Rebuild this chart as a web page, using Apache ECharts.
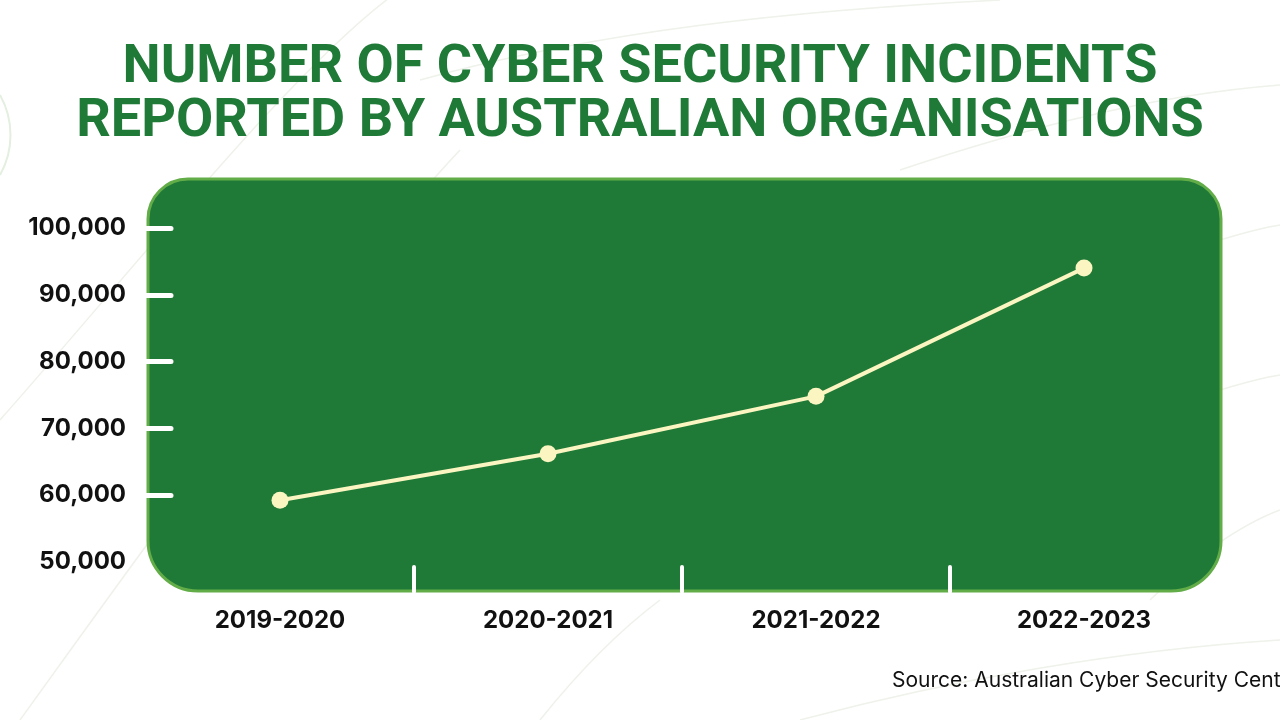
<!DOCTYPE html>
<html>
<head>
<meta charset="utf-8">
<script src="https://cdn.jsdelivr.net/npm/echarts@6/dist/echarts.min.js"></script>
<style>
html,body{margin:0;padding:0;background:#ffffff;}
#chart{width:1280px;height:720px;}
</style>
</head>
<body>
<div id="chart"></div>
<script>
const titleText = 'NUMBER OF CYBER SECURITY INCIDENTS\nREPORTED BY AUSTRALIAN ORGANISATIONS';
const sourceText = 'Source: Australian Cyber Security Centre';
const categories = ['2019-2020', '2020-2021', '2021-2022', '2022-2023'];
const incidents = [59250, 66200, 74800, 94000];
const yTickValues = [60000, 70000, 80000, 90000, 100000];

const chart = echarts.init(document.getElementById('chart'), null, {renderer: 'canvas'});

const faint = '#eef2ea';
const option = {
  backgroundColor: '#ffffff',
  animation: false,
  title: {
    text: titleText,
    left: 'center',
    top: 36,
    textStyle: {
      fontFamily: 'Roboto',
      fontWeight: 'bold',
      fontSize: 54,
      lineHeight: 54,
      color: '#1f7a37'
    }
  },
  graphic: [
    // faint decorative background curves
    {type: 'bezierCurve', z: -10, shape: {x1: 0, y1: 420, x2: 400, y2: -10, cpx1: 150, cpy1: 250, cpx2: 300, cpy2: 60}, style: {stroke: faint, lineWidth: 1.5, fill: null}},
    {type: 'bezierCurve', z: -10, shape: {x1: 20, y1: 720, x2: 460, y2: 150, cpx1: 150, cpy1: 540, cpx2: 320, cpy2: 300}, style: {stroke: faint, lineWidth: 1.5, fill: null}},
    {type: 'bezierCurve', z: -10, shape: {x1: 420, y1: 80, x2: 1000, y2: 0, cpx1: 600, cpy1: 30, cpx2: 800, cpy2: 10}, style: {stroke: faint, lineWidth: 1.5, fill: null}},
    {type: 'bezierCurve', z: -10, shape: {x1: 900, y1: 170, x2: 1280, y2: 85, cpx1: 1020, cpy1: 130, cpx2: 1150, cpy2: 95}, style: {stroke: faint, lineWidth: 1.5, fill: null}},
    {type: 'bezierCurve', z: -10, shape: {x1: 1220, y1: 240, x2: 1280, y2: 225, cpx1: 1240, cpy1: 234, cpx2: 1260, cpy2: 228}, style: {stroke: faint, lineWidth: 1.5, fill: null}},
    {type: 'bezierCurve', z: -10, shape: {x1: 1220, y1: 390, x2: 1280, y2: 375, cpx1: 1240, cpy1: 384, cpx2: 1260, cpy2: 378}, style: {stroke: faint, lineWidth: 1.5, fill: null}},
    {type: 'bezierCurve', z: -10, shape: {x1: 1150, y1: 600, x2: 1280, y2: 510, cpx1: 1190, cpy1: 560, cpx2: 1240, cpy2: 525}, style: {stroke: faint, lineWidth: 1.5, fill: null}},
    {type: 'bezierCurve', z: -10, shape: {x1: 800, y1: 720, x2: 1280, y2: 640, cpx1: 950, cpy1: 680, cpx2: 1120, cpy2: 650}, style: {stroke: faint, lineWidth: 1.5, fill: null}},
    {type: 'bezierCurve', z: -10, shape: {x1: 540, y1: 720, x2: 660, y2: 600, cpx1: 580, cpy1: 670, cpx2: 620, cpy2: 630}, style: {stroke: faint, lineWidth: 1.5, fill: null}},
    {type: 'bezierCurve', z: -10, shape: {x1: 0, y1: 95, x2: 0, y2: 175, cpx1: 14, cpy1: 120, cpx2: 14, cpy2: 150}, style: {stroke: '#e4efe0', lineWidth: 2, fill: null}},
    // green panel
    {
      type: 'rect', z: -5,
      shape: {x: 148, y: 179, width: 1073, height: 412, r: [40, 40, 50, 50]},
      style: {fill: '#207a37', stroke: '#62ad48', lineWidth: 3}
    },
    {
      type: 'text', left: 892, top: 670,
      style: {text: sourceText, fontFamily: 'Inter', fontSize: 21, fill: '#111111'}
    }
  ],
  grid: {left: 146, right: 62, top: 228, bottom: 158, containLabel: false},
  xAxis: {
    type: 'category',
    data: categories,
    boundaryGap: true,
    offset: 30,
    axisLine: {show: false},
    axisTick: {show: true, inside: true, length: 25, lineStyle: {color: '#ffffff', width: 4, cap: 'round'}},
    axisLabel: {fontFamily: 'Inter', fontWeight: 'bold', fontSize: 24, color: '#111111', margin: 17},
    splitLine: {show: false}
  },
  yAxis: {
    type: 'value',
    min: 50000,
    max: 100000,
    interval: 10000,
    axisLine: {show: false},
    axisTick: {show: true, inside: true, length: 25, customValues: yTickValues, lineStyle: {color: '#ffffff', width: 5, cap: 'round'}},
    axisLabel: {
      fontFamily: 'Inter', fontWeight: 'bold', fontSize: 24, color: '#111111', margin: 20,
      formatter: function (v) { return v.toLocaleString('en-US'); }
    },
    splitLine: {show: false}
  },
  series: [{
    type: 'line',
    data: incidents,
    symbol: 'circle',
    symbolSize: 17,
    lineStyle: {color: '#fbf5c2', width: 4},
    itemStyle: {color: '#fbf5c2'},
    label: {show: false}
  }]
};
chart.setOption(option);
</script>
</body>
</html>
